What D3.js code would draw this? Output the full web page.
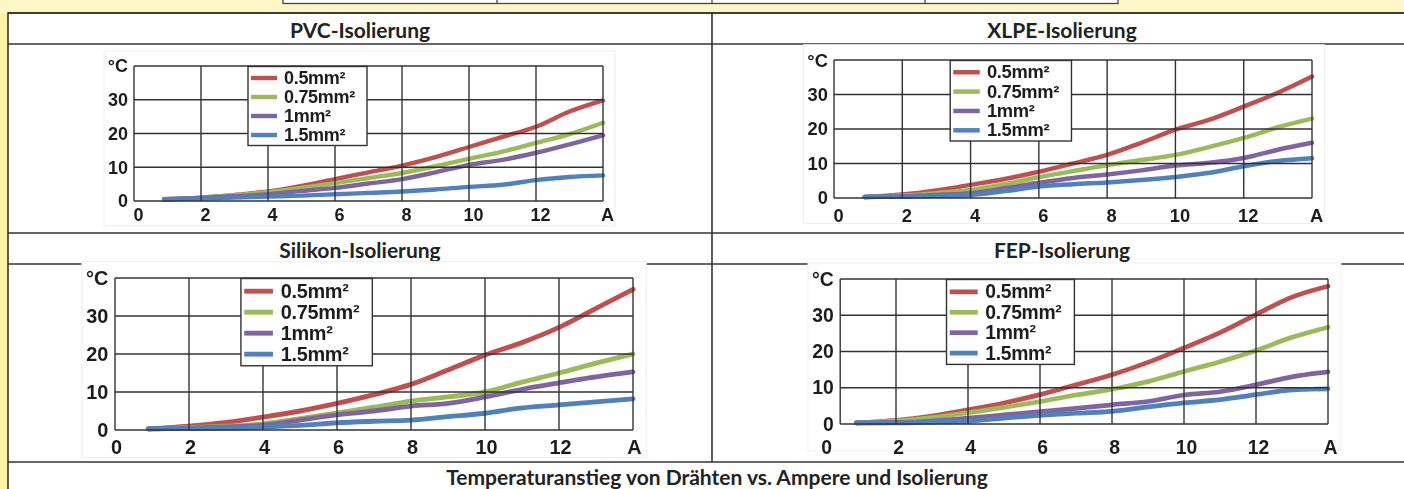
<!DOCTYPE html>
<html>
<head>
<meta charset="utf-8">
<script src="https://cdn.jsdelivr.net/npm/d3@7"></script>
<style>
  html, body { margin: 0; padding: 0; background: #fff6c8; }
  svg { display: block; }
</style>
</head>
<body>
<svg id="sheet" width="1404" height="489"></svg>
<script>
// Current in ampere at which each temperature rise was measured
const amps = [0.9, 2, 3, 4, 5, 6, 7, 8, 9, 10, 11, 12, 13, 14];

// Wire cross-sections (legend) and their line colours
const wireSizes = ["0.5mm²", "0.75mm²", "1mm²", "1.5mm²"];
const seriesColors = ["#c0504d", "#9bbb59", "#8064a2", "#4f81bd"];

// Axis ticks
const xTickValues = [0, 2, 4, 6, 8, 10, 12, 14];
const xTickLabels = ["0", "2", "4", "6", "8", "10", "12", "A"];
const yTickValues = [0, 10, 20, 30];
const yUnit = "°C";

// Headings
const panelTitles = ["PVC-Isolierung", "XLPE-Isolierung", "Silikon-Isolierung", "FEP-Isolierung"];
const caption = "Temperaturanstieg von Drähten vs. Ampere und Isolierung";

// Temperature rise (°C) per wire size, one row per cross-section
const pvcRise = [
  [0.5, 1.0, 1.8, 2.8, 4.5, 6.5, 8.5, 10.5, 13.0, 16.0, 19.0, 22.0, 26.5, 29.8],
  [0.5, 1.0, 1.7, 2.6, 3.9, 5.3, 6.8, 8.3, 10.3, 12.5, 14.6, 17.2, 19.8, 23.2],
  [0.5, 0.9, 1.4, 2.0, 3.0, 3.9, 5.2, 6.5, 8.5, 10.7, 12.2, 14.3, 16.8, 19.5],
  [0.5, 0.7, 1.0, 1.3, 1.6, 2.0, 2.4, 2.8, 3.4, 4.2, 4.8, 6.2, 7.1, 7.6]
];
const xlpeRise = [
  [0.3, 1.0, 2.2, 3.8, 5.5, 7.6, 10.0, 12.5, 16.0, 19.8, 22.7, 26.5, 30.5, 35.2],
  [0.3, 0.7, 1.4, 2.3, 4.0, 6.0, 7.8, 9.5, 11.0, 12.5, 14.8, 17.4, 20.5, 23.0],
  [0.3, 0.5, 0.9, 1.4, 2.8, 4.4, 5.8, 6.8, 8.0, 9.4, 10.2, 11.6, 14.0, 16.0],
  [0.3, 0.4, 0.6, 0.9, 2.0, 3.3, 4.0, 4.5, 5.2, 6.1, 7.3, 9.2, 10.7, 11.5]
];
const silikonRise = [
  [0.3, 1.0, 2.0, 3.4, 5.0, 7.0, 9.3, 12.0, 15.8, 19.7, 23.0, 27.0, 32.0, 37.0],
  [0.3, 0.6, 1.0, 1.6, 3.0, 4.5, 6.0, 7.6, 8.7, 10.0, 12.6, 15.0, 17.6, 20.0],
  [0.3, 0.5, 0.8, 1.3, 2.6, 4.0, 5.0, 6.3, 7.0, 8.7, 10.7, 12.4, 14.0, 15.3],
  [0.3, 0.4, 0.5, 0.8, 1.2, 1.9, 2.3, 2.6, 3.5, 4.4, 5.8, 6.6, 7.4, 8.2]
];
const fepRise = [
  [0.3, 1.0, 2.2, 3.9, 5.8, 8.1, 10.8, 13.6, 17.0, 21.0, 25.2, 30.2, 35.0, 38.0],
  [0.3, 0.9, 1.8, 3.1, 4.6, 6.2, 8.0, 9.6, 11.7, 14.5, 17.2, 20.3, 23.9, 26.7],
  [0.3, 0.4, 0.8, 1.6, 2.5, 3.4, 4.3, 5.3, 6.2, 8.0, 8.9, 10.8, 13.0, 14.4],
  [0.3, 0.3, 0.5, 0.8, 1.6, 2.4, 3.0, 3.5, 4.7, 5.8, 6.7, 8.1, 9.4, 9.7]
];

// ---- page layout -------------------------------------------------------
const svg = d3.select("#sheet");
const W = 1404, H = 489;
const ink = "#333";
const titleFont = "Lato, 'Open Sans', sans-serif";
const chartFont = "'Liberation Sans', Arial, sans-serif";

const defs = svg.append("defs");
defs.append("filter").attr("id", "soft")
  .attr("x", "-5%").attr("y", "-5%").attr("width", "110%").attr("height", "110%")
  .append("feGaussianBlur").attr("stdDeviation", 0.55);

// page background: pale yellow with a stronger strip on the left margin
svg.append("rect").attr("width", W).attr("height", H).attr("fill", "#fff6c8");
svg.append("rect").attr("x", 0).attr("y", 13).attr("width", 8).attr("height", H - 13).attr("fill", "#fff1a6");

// tail of the preceding table, cut at the top edge
const prevTable = svg.append("g");
prevTable.append("rect").attr("x", 283).attr("y", -10).attr("width", 835).attr("height", 13.5)
  .attr("fill", "#fff").attr("stroke", "#444").attr("stroke-width", 1.3);
[497, 712, 925].forEach(xv => prevTable.append("line")
  .attr("x1", xv).attr("x2", xv).attr("y1", -10).attr("y2", 3.5)
  .attr("stroke", "#444").attr("stroke-width", 1.3));

// main table
const tLeft = 8, tRight = 1425, tTop = 13, tBottom = 500, tMid = 712;
const rowLines = [13, 44, 233, 264, 462];
const table = svg.append("g");
table.append("rect").attr("x", tLeft).attr("y", tTop).attr("width", tRight - tLeft).attr("height", tBottom - tTop)
  .attr("fill", "#fff").attr("stroke", ink).attr("stroke-width", 1.6);
rowLines.forEach(yv => table.append("line")
  .attr("x1", tLeft).attr("x2", tRight).attr("y1", yv).attr("y2", yv)
  .attr("stroke", ink).attr("stroke-width", 1.6));
table.append("line").attr("x1", tMid).attr("x2", tMid).attr("y1", tTop).attr("y2", 462)
  .attr("stroke", ink).attr("stroke-width", 1.6);

// cell headings
const headingPos = [
  { x: (tLeft + tMid) / 2, y: 29 },
  { x: 1062, y: 29 },
  { x: (tLeft + tMid) / 2, y: 249 },
  { x: 1062, y: 249 }
];
const headFont = 21;
panelTitles.forEach((t, i) => table.append("text")
  .attr("x", headingPos[i].x).attr("y", headingPos[i].y)
  .attr("text-anchor", "middle").attr("dominant-baseline", "central")
  .attr("font-family", titleFont).attr("font-weight", 700).attr("font-size", headFont)
  .attr("fill", "#222").text(t));
table.append("text")
  .attr("x", 717).attr("y", 476)
  .attr("text-anchor", "middle").attr("dominant-baseline", "central")
  .attr("font-family", titleFont).attr("font-weight", 700).attr("font-size", headFont)
  .attr("fill", "#222").text(caption);

// ---- charts ------------------------------------------------------------
// frameFrom: ampere value where the plot frame starts (the FEP picture is cropped on the left)
const panels = [
  { rise: pvcRise,     x0: 134, x1: 603,  y0: 66,  y1: 201, tickDx: 4, tickDy: 14, frameFrom: 0 },
  { rise: xlpeRise,    x0: 834, x1: 1312, y0: 60,  y1: 198, tickDx: 4, tickDy: 17, frameFrom: 0 },
  { rise: silikonRise, x0: 115, x1: 633,  y0: 278, y1: 430, tickDx: 1, tickDy: 17, frameFrom: 0 },
  { rise: fepRise,     x0: 824, x1: 1328, y0: 279, y1: 424, tickDx: 2, tickDy: 23, frameFrom: 0.45 }
];

function drawChart(p) {
  const s = (p.x1 - p.x0) / 469;
  const x = d3.scaleLinear().domain([0, 14]).range([p.x0, p.x1]);
  const y = d3.scaleLinear().domain([0, 40]).range([p.y1, p.y0]);
  const fx = x(p.frameFrom);
  const g = svg.append("g").attr("filter", "url(#soft)");

  // faint outline of the chart picture
  g.append("rect")
    .attr("x", fx - 30 * s).attr("y", p.y0 - 15 * s)
    .attr("width", p.x1 - fx + 42 * s).attr("height", p.y1 - p.y0 + 40 * s)
    .attr("fill", "#fff").attr("stroke", "#efefef").attr("stroke-width", 1);

  // data lines
  const line = d3.line()
    .x((d, i) => x(amps[i]))
    .y(d => y(d))
    .curve(d3.curveMonotoneX);
  g.selectAll("path.series").data(p.rise).join("path")
    .attr("class", "series")
    .attr("d", line)
    .attr("fill", "none")
    .attr("stroke", (d, i) => seriesColors[i])
    .attr("stroke-width", 4.4 * s)
    .attr("stroke-linecap", "round")
    .attr("stroke-linejoin", "round");

  // grid and frame
  const vLines = [p.frameFrom].concat(d3.range(2, 15, 2));
  g.selectAll("line.vg").data(vLines).join("line")
    .attr("x1", d => x(d)).attr("x2", d => x(d))
    .attr("y1", y(0)).attr("y2", y(40))
    .attr("stroke", ink).attr("stroke-width", 1.4);
  g.selectAll("line.hg").data([0, 10, 20, 30, 40]).join("line")
    .attr("x1", fx).attr("x2", x(14))
    .attr("y1", d => y(d)).attr("y2", d => y(d))
    .attr("stroke", ink).attr("stroke-width", 1.4);

  // axes (labels only)
  const fs = 18 * s;
  const yAxis = g.append("g").attr("transform", `translate(${fx},0)`)
    .call(d3.axisLeft(y).tickValues(yTickValues).tickSize(0).tickPadding(6 * s));
  const xAxis = g.append("g").attr("transform", `translate(${p.tickDx},${p.y1 + p.tickDy})`)
    .call(d3.axisBottom(x).tickValues(xTickValues).tickFormat((d, i) => xTickLabels[i]).tickSize(0).tickPadding(0));
  [yAxis, xAxis].forEach(a => {
    a.select(".domain").remove();
    a.selectAll("text")
      .attr("font-family", chartFont).attr("font-weight", 700)
      .attr("font-size", fs).attr("fill", "#1e1e1e");
  });
  xAxis.selectAll("text").attr("dy", null).attr("y", 0).attr("dominant-baseline", "central");
  g.append("text")
    .attr("x", fx - 6 * s).attr("y", p.y0)
    .attr("text-anchor", "end").attr("dominant-baseline", "central")
    .attr("font-family", chartFont).attr("font-weight", 700).attr("font-size", fs)
    .attr("fill", "#1e1e1e").text(yUnit);

  // legend
  const lx = p.x0 + 114 * s, ly = p.y0 + 0.5;
  const leg = g.append("g").attr("transform", `translate(${lx},${ly})`);
  leg.append("rect").attr("width", 119 * s).attr("height", 79 * s)
    .attr("fill", "#fff").attr("stroke", ink).attr("stroke-width", 1.4);
  const rows = leg.selectAll("g.row").data(wireSizes).join("g")
    .attr("transform", (d, i) => `translate(0,${(17.5 + 19 * i) * s})`);
  rows.append("line")
    .attr("x1", 3 * s).attr("x2", 29 * s).attr("y1", -6 * s).attr("y2", -6 * s)
    .attr("stroke", (d, i) => seriesColors[i]).attr("stroke-width", 4.4 * s);
  rows.append("text")
    .attr("x", 36 * s).attr("y", 0)
    .attr("font-family", chartFont).attr("font-weight", 700).attr("font-size", fs)
    .attr("letter-spacing", -0.3)
    .attr("fill", "#1e1e1e").text(d => d);
}

panels.forEach(drawChart);
</script>
</body>
</html>
